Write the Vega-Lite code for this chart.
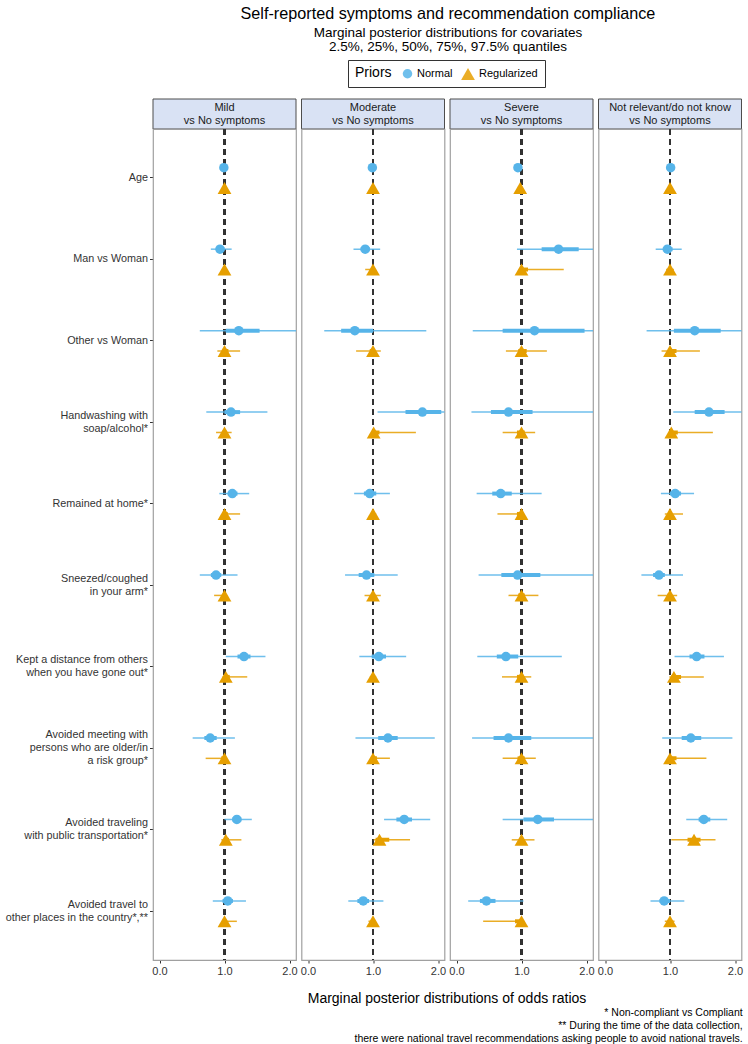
{
  "$schema": "https://vega.github.io/schema/vega-lite/v6.json",
  "padding": {"left": 5, "right": 5, "top": 5, "bottom": 0},
  "background": "white",
  "title": {
    "text": "Self-reported symptoms and recommendation compliance",
    "subtitle": ["Marginal posterior distributions for covariates", "2.5%, 25%, 50%, 75%, 97.5% quantiles"],
    "anchor": "middle",
    "dx": 74,
    "fontSize": 16.2,
    "fontWeight": "normal",
    "color": "#000000",
    "subtitleFontSize": 13.5,
    "subtitleColor": "#000000",
    "subtitlePadding": 4,
    "subtitleLineHeight": 14,
    "offset": 6
  },
  "bounds": "flush",
  "spacing": 0,
  "vconcat": [
    {
      "data": {"values": [
        {"panel": "Mild", "l1": "Mild", "l2": "vs No symptoms"},
        {"panel": "Moderate", "l1": "Moderate", "l2": "vs No symptoms"},
        {"panel": "Severe", "l1": "Severe", "l2": "vs No symptoms"},
        {"panel": "Not relevant", "l1": "Not relevant/do not know", "l2": "vs No symptoms"}
      ]},
      "width": 588.5,
      "height": 30,
      "view": {"stroke": null},
      "encoding": {
        "x": {"field": "panel", "type": "nominal", "sort": ["Mild", "Moderate", "Severe", "Not relevant"], "scale": {"paddingInner": 0.037037, "paddingOuter": 0}, "axis": null}
      },
      "layer": [
        {
          "mark": {"type": "rect", "fill": "#D9E2F4", "stroke": "#4d4d4d", "strokeWidth": 1},
          "encoding": {"y": {"value": 0}, "y2": {"value": "height"}}
        },
        {
          "mark": {"type": "text", "fontSize": 11, "color": "#1a1a1a", "dy": -6.5},
          "encoding": {"text": {"field": "l1"}}
        },
        {
          "mark": {"type": "text", "fontSize": 11, "color": "#1a1a1a", "dy": 6.5},
          "encoding": {"text": {"field": "l2"}}
        }
      ]
    },
    {
      "data": {"values": [
        {"panel":"Mild","cov":"Age","prior":"Normal","lo":0.97,"q25":0.98,"med":0.99,"q75":1.0,"hi":1.01},
        {"panel":"Mild","cov":"Age","prior":"Regularized","lo":0.98,"q25":0.99,"med":1.0,"q75":1.01,"hi":1.02},
        {"panel":"Mild","cov":"Man vs Woman","prior":"Normal","lo":0.79,"q25":0.88,"med":0.93,"q75":1.0,"hi":1.11},
        {"panel":"Mild","cov":"Man vs Woman","prior":"Regularized","lo":0.96,"q25":0.99,"med":1.0,"q75":1.01,"hi":1.04},
        {"panel":"Mild","cov":"Other vs Woman","prior":"Normal","lo":0.62,"q25":1.02,"med":1.22,"q75":1.54,"hi":2.3},
        {"panel":"Mild","cov":"Other vs Woman","prior":"Regularized","lo":0.89,"q25":0.97,"med":1.0,"q75":1.06,"hi":1.24},
        {"panel":"Mild","cov":"Handwashing with\nsoap/alcohol*","prior":"Normal","lo":0.72,"q25":1.0,"med":1.1,"q75":1.24,"hi":1.66},
        {"panel":"Mild","cov":"Handwashing with\nsoap/alcohol*","prior":"Regularized","lo":0.87,"q25":0.97,"med":1.0,"q75":1.03,"hi":1.11},
        {"panel":"Mild","cov":"Remained at home*","prior":"Normal","lo":0.92,"q25":1.05,"med":1.12,"q75":1.2,"hi":1.38},
        {"panel":"Mild","cov":"Remained at home*","prior":"Regularized","lo":0.97,"q25":0.99,"med":1.0,"q75":1.05,"hi":1.24},
        {"panel":"Mild","cov":"Sneezed/coughed\nin your arm*","prior":"Normal","lo":0.62,"q25":0.79,"med":0.87,"q75":0.95,"hi":1.2},
        {"panel":"Mild","cov":"Sneezed/coughed\nin your arm*","prior":"Regularized","lo":0.84,"q25":0.97,"med":1.0,"q75":1.01,"hi":1.03},
        {"panel":"Mild","cov":"Kept a distance from others\nwhen you have gone out*","prior":"Normal","lo":1.02,"q25":1.2,"med":1.3,"q75":1.4,"hi":1.63},
        {"panel":"Mild","cov":"Kept a distance from others\nwhen you have gone out*","prior":"Regularized","lo":0.97,"q25":1.0,"med":1.02,"q75":1.08,"hi":1.35},
        {"panel":"Mild","cov":"Avoided meeting with\npersons who are older/in\na risk group*","prior":"Normal","lo":0.51,"q25":0.69,"med":0.78,"q75":0.88,"hi":1.16},
        {"panel":"Mild","cov":"Avoided meeting with\npersons who are older/in\na risk group*","prior":"Regularized","lo":0.71,"q25":0.95,"med":1.0,"q75":1.01,"hi":1.03},
        {"panel":"Mild","cov":"Avoided traveling\nwith public transportation*","prior":"Normal","lo":1.0,"q25":1.12,"med":1.19,"q75":1.26,"hi":1.42},
        {"panel":"Mild","cov":"Avoided traveling\nwith public transportation*","prior":"Regularized","lo":0.95,"q25":1.0,"med":1.02,"q75":1.07,"hi":1.26},
        {"panel":"Mild","cov":"Avoided travel to\nother places in the country*,**","prior":"Normal","lo":0.82,"q25":0.97,"med":1.05,"q75":1.13,"hi":1.33},
        {"panel":"Mild","cov":"Avoided travel to\nother places in the country*,**","prior":"Regularized","lo":0.97,"q25":0.99,"med":1.0,"q75":1.03,"hi":1.19},

        {"panel":"Moderate","cov":"Age","prior":"Normal","lo":0.97,"q25":0.98,"med":0.99,"q75":1.0,"hi":1.01},
        {"panel":"Moderate","cov":"Age","prior":"Regularized","lo":0.98,"q25":0.99,"med":1.0,"q75":1.01,"hi":1.02},
        {"panel":"Moderate","cov":"Man vs Woman","prior":"Normal","lo":0.7,"q25":0.81,"med":0.88,"q75":0.95,"hi":1.11},
        {"panel":"Moderate","cov":"Man vs Woman","prior":"Regularized","lo":0.88,"q25":0.98,"med":1.0,"q75":1.01,"hi":1.04},
        {"panel":"Moderate","cov":"Other vs Woman","prior":"Normal","lo":0.25,"q25":0.51,"med":0.72,"q75":1.0,"hi":1.82},
        {"panel":"Moderate","cov":"Other vs Woman","prior":"Regularized","lo":0.74,"q25":0.95,"med":1.0,"q75":1.03,"hi":1.12},
        {"panel":"Moderate","cov":"Handwashing with\nsoap/alcohol*","prior":"Normal","lo":1.07,"q25":1.5,"med":1.76,"q75":2.05,"hi":2.6},
        {"panel":"Moderate","cov":"Handwashing with\nsoap/alcohol*","prior":"Regularized","lo":0.99,"q25":1.0,"med":1.01,"q75":1.1,"hi":1.66},
        {"panel":"Moderate","cov":"Remained at home*","prior":"Normal","lo":0.71,"q25":0.86,"med":0.95,"q75":1.05,"hi":1.26},
        {"panel":"Moderate","cov":"Remained at home*","prior":"Regularized","lo":0.97,"q25":0.99,"med":1.0,"q75":1.02,"hi":1.05},
        {"panel":"Moderate","cov":"Sneezed/coughed\nin your arm*","prior":"Normal","lo":0.57,"q25":0.78,"med":0.9,"q75":1.02,"hi":1.38},
        {"panel":"Moderate","cov":"Sneezed/coughed\nin your arm*","prior":"Regularized","lo":0.87,"q25":0.98,"med":1.0,"q75":1.03,"hi":1.12},
        {"panel":"Moderate","cov":"Kept a distance from others\nwhen you have gone out*","prior":"Normal","lo":0.79,"q25":0.98,"med":1.09,"q75":1.2,"hi":1.51},
        {"panel":"Moderate","cov":"Kept a distance from others\nwhen you have gone out*","prior":"Regularized","lo":0.95,"q25":0.99,"med":1.0,"q75":1.02,"hi":1.05},
        {"panel":"Moderate","cov":"Avoided meeting with\npersons who are older/in\na risk group*","prior":"Normal","lo":0.73,"q25":1.08,"med":1.23,"q75":1.38,"hi":1.95},
        {"panel":"Moderate","cov":"Avoided meeting with\npersons who are older/in\na risk group*","prior":"Regularized","lo":0.97,"q25":0.99,"med":1.0,"q75":1.06,"hi":1.26},
        {"panel":"Moderate","cov":"Avoided traveling\nwith public transportation*","prior":"Normal","lo":1.17,"q25":1.36,"med":1.48,"q75":1.6,"hi":1.88},
        {"panel":"Moderate","cov":"Avoided traveling\nwith public transportation*","prior":"Regularized","lo":1.01,"q25":1.04,"med":1.1,"q75":1.25,"hi":1.57},
        {"panel":"Moderate","cov":"Avoided travel to\nother places in the country*,**","prior":"Normal","lo":0.62,"q25":0.76,"med":0.85,"q75":0.94,"hi":1.16},
        {"panel":"Moderate","cov":"Avoided travel to\nother places in the country*,**","prior":"Regularized","lo":0.93,"q25":0.98,"med":1.0,"q75":1.01,"hi":1.03},

        {"panel":"Severe","cov":"Age","prior":"Normal","lo":0.92,"q25":0.935,"med":0.945,"q75":0.955,"hi":0.97},
        {"panel":"Severe","cov":"Age","prior":"Regularized","lo":0.96,"q25":0.97,"med":0.98,"q75":0.99,"hi":1.0},
        {"panel":"Severe","cov":"Man vs Woman","prior":"Normal","lo":0.93,"q25":1.31,"med":1.57,"q75":1.88,"hi":2.6},
        {"panel":"Severe","cov":"Man vs Woman","prior":"Regularized","lo":0.98,"q25":1.0,"med":1.0,"q75":1.1,"hi":1.65},
        {"panel":"Severe","cov":"Other vs Woman","prior":"Normal","lo":0.25,"q25":0.71,"med":1.2,"q75":1.97,"hi":3.5},
        {"panel":"Severe","cov":"Other vs Woman","prior":"Regularized","lo":0.76,"q25":0.95,"med":1.0,"q75":1.08,"hi":1.39},
        {"panel":"Severe","cov":"Handwashing with\nsoap/alcohol*","prior":"Normal","lo":0.23,"q25":0.53,"med":0.8,"q75":1.17,"hi":2.8},
        {"panel":"Severe","cov":"Handwashing with\nsoap/alcohol*","prior":"Regularized","lo":0.71,"q25":0.93,"med":1.0,"q75":1.05,"hi":1.21},
        {"panel":"Severe","cov":"Remained at home*","prior":"Normal","lo":0.31,"q25":0.55,"med":0.68,"q75":0.85,"hi":1.31},
        {"panel":"Severe","cov":"Remained at home*","prior":"Regularized","lo":0.63,"q25":0.93,"med":1.0,"q75":1.01,"hi":1.02},
        {"panel":"Severe","cov":"Sneezed/coughed\nin your arm*","prior":"Normal","lo":0.34,"q25":0.69,"med":0.94,"q75":1.29,"hi":2.6},
        {"panel":"Severe","cov":"Sneezed/coughed\nin your arm*","prior":"Regularized","lo":0.8,"q25":0.95,"med":1.0,"q75":1.05,"hi":1.26},
        {"panel":"Severe","cov":"Kept a distance from others\nwhen you have gone out*","prior":"Normal","lo":0.32,"q25":0.62,"med":0.76,"q75":0.95,"hi":1.62},
        {"panel":"Severe","cov":"Kept a distance from others\nwhen you have gone out*","prior":"Regularized","lo":0.7,"q25":0.93,"med":1.0,"q75":1.03,"hi":1.15},
        {"panel":"Severe","cov":"Avoided meeting with\npersons who are older/in\na risk group*","prior":"Normal","lo":0.24,"q25":0.57,"med":0.8,"q75":1.15,"hi":2.7},
        {"panel":"Severe","cov":"Avoided meeting with\npersons who are older/in\na risk group*","prior":"Regularized","lo":0.71,"q25":0.94,"med":1.0,"q75":1.05,"hi":1.22},
        {"panel":"Severe","cov":"Avoided traveling\nwith public transportation*","prior":"Normal","lo":0.71,"q25":1.03,"med":1.25,"q75":1.5,"hi":2.3},
        {"panel":"Severe","cov":"Avoided traveling\nwith public transportation*","prior":"Regularized","lo":0.85,"q25":0.96,"med":1.0,"q75":1.03,"hi":1.2},
        {"panel":"Severe","cov":"Avoided travel to\nother places in the country*,**","prior":"Normal","lo":0.18,"q25":0.36,"med":0.46,"q75":0.6,"hi":1.03},
        {"panel":"Severe","cov":"Avoided travel to\nother places in the country*,**","prior":"Regularized","lo":0.41,"q25":0.9,"med":1.0,"q75":1.01,"hi":1.02},

        {"panel":"Not relevant","cov":"Age","prior":"Normal","lo":0.99,"q25":1.0,"med":1.01,"q75":1.02,"hi":1.03},
        {"panel":"Not relevant","cov":"Age","prior":"Regularized","lo":0.98,"q25":0.99,"med":1.0,"q75":1.01,"hi":1.02},
        {"panel":"Not relevant","cov":"Man vs Woman","prior":"Normal","lo":0.78,"q25":0.89,"med":0.96,"q75":1.04,"hi":1.18},
        {"panel":"Not relevant","cov":"Man vs Woman","prior":"Regularized","lo":0.94,"q25":0.99,"med":1.0,"q75":1.02,"hi":1.06},
        {"panel":"Not relevant","cov":"Other vs Woman","prior":"Normal","lo":0.64,"q25":1.06,"med":1.38,"q75":1.78,"hi":2.9},
        {"panel":"Not relevant","cov":"Other vs Woman","prior":"Regularized","lo":0.87,"q25":0.97,"med":1.0,"q75":1.1,"hi":1.46},
        {"panel":"Not relevant","cov":"Handwashing with\nsoap/alcohol*","prior":"Normal","lo":1.05,"q25":1.38,"med":1.6,"q75":1.84,"hi":2.4},
        {"panel":"Not relevant","cov":"Handwashing with\nsoap/alcohol*","prior":"Regularized","lo":0.99,"q25":1.0,"med":1.02,"q75":1.12,"hi":1.66},
        {"panel":"Not relevant","cov":"Remained at home*","prior":"Normal","lo":0.86,"q25":1.0,"med":1.08,"q75":1.17,"hi":1.37},
        {"panel":"Not relevant","cov":"Remained at home*","prior":"Regularized","lo":0.92,"q25":0.98,"med":1.0,"q75":1.03,"hi":1.2},
        {"panel":"Not relevant","cov":"Sneezed/coughed\nin your arm*","prior":"Normal","lo":0.56,"q25":0.74,"med":0.83,"q75":0.92,"hi":1.2},
        {"panel":"Not relevant","cov":"Sneezed/coughed\nin your arm*","prior":"Regularized","lo":0.81,"q25":0.96,"med":1.0,"q75":1.02,"hi":1.11},
        {"panel":"Not relevant","cov":"Kept a distance from others\nwhen you have gone out*","prior":"Normal","lo":1.07,"q25":1.3,"med":1.41,"q75":1.53,"hi":1.83},
        {"panel":"Not relevant","cov":"Kept a distance from others\nwhen you have gone out*","prior":"Regularized","lo":0.99,"q25":1.02,"med":1.06,"q75":1.17,"hi":1.52},
        {"panel":"Not relevant","cov":"Avoided meeting with\npersons who are older/in\na risk group*","prior":"Normal","lo":0.88,"q25":1.18,"med":1.32,"q75":1.48,"hi":1.96},
        {"panel":"Not relevant","cov":"Avoided meeting with\npersons who are older/in\na risk group*","prior":"Regularized","lo":0.98,"q25":1.0,"med":1.0,"q75":1.1,"hi":1.56},
        {"panel":"Not relevant","cov":"Avoided traveling\nwith public transportation*","prior":"Normal","lo":1.25,"q25":1.44,"med":1.52,"q75":1.62,"hi":1.88},
        {"panel":"Not relevant","cov":"Avoided traveling\nwith public transportation*","prior":"Regularized","lo":1.02,"q25":1.27,"med":1.37,"q75":1.47,"hi":1.7},
        {"panel":"Not relevant","cov":"Avoided travel to\nother places in the country*,**","prior":"Normal","lo":0.7,"q25":0.84,"med":0.91,"q75":1.0,"hi":1.22},
        {"panel":"Not relevant","cov":"Avoided travel to\nother places in the country*,**","prior":"Regularized","lo":0.92,"q25":0.98,"med":1.0,"q75":1.02,"hi":1.07}
      ]},
      "facet": {"column": {"field": "panel", "type": "nominal", "sort": ["Mild", "Moderate", "Severe", "Not relevant"],
        "title": "Marginal posterior distributions of odds ratios",
        "header": {"labels": false, "titleOrient": "bottom", "titleFontSize": 14, "titleFontWeight": "normal", "titleColor": "#000000", "titlePadding": 6}}},
      "spacing": 5.5,
      "bounds": "flush",
      "title": {
        "text": ["* Non-compliant vs Compliant", "** During the time of the data collection,", "there were national travel recommendations asking people to avoid national travels."],
        "orient": "bottom",
        "anchor": "end",
        "align": "right",
        "fontSize": 10.5,
        "fontWeight": "normal",
        "color": "#000000",
        "lineHeight": 13,
        "offset": 2
      },
      "spec": {
        "width": 143,
        "height": 831,
        "encoding": {
          "y": {"field": "cov", "type": "nominal",
            "sort": ["Age", "Man vs Woman", "Other vs Woman", "Handwashing with\nsoap/alcohol*", "Remained at home*", "Sneezed/coughed\nin your arm*", "Kept a distance from others\nwhen you have gone out*", "Avoided meeting with\npersons who are older/in\na risk group*", "Avoided traveling\nwith public transportation*", "Avoided travel to\nother places in the country*,**"],
            "scale": {"type": "band", "paddingInner": 0, "paddingOuter": 0.1},
            "axis": {"title": null, "labelExpr": "split(datum.label, '\\n')", "labelFontSize": 10.8, "labelColor": "#333333", "tickSize": 3.5, "tickColor": "#333333", "labelPadding": 2, "labelLineHeight": 13, "domain": false,
              "labelOffset": {"condition": [{"test": "length(split(datum.value, '\\n')) == 3", "value": -13}, {"test": "length(split(datum.value, '\\n')) == 2", "value": -6.5}], "value": 0}}
          },
          "yOffset": {"field": "prior", "type": "nominal", "scale": {"domain": ["Normal", "Regularized"], "paddingInner": 0, "paddingOuter": 1.0375}}
        },
        "layer": [
          {
            "mark": {"type": "rule", "strokeDash": [6, 4], "color": "#333333", "strokeWidth": 1.5},
            "encoding": {"x": {"datum": 1, "type": "quantitative"}, "y": null, "yOffset": null}
          },
          {
            "mark": {"type": "rule", "clip": true, "strokeWidth": 1.5, "opacity": 0.85},
            "encoding": {
              "x": {"field": "lo", "type": "quantitative",
                "scale": {"domain": [-0.1, 2.1], "nice": false, "zero": false},
                "axis": {"title": null, "values": [0, 0.5, 1, 1.5, 2], "format": ".1f", "labelFontSize": 11, "labelColor": "#333333", "tickSize": 3, "tickColor": "#333333", "labelPadding": 2, "domain": false, "grid": false}},
              "x2": {"field": "hi"},
              "color": {"field": "prior", "type": "nominal", "title": "Priors", "scale": {"domain": ["Normal", "Regularized"], "range": ["#56B4E9", "#E69F00"]}}
            }
          },
          {
            "mark": {"type": "rule", "clip": true, "strokeWidth": 4},
            "encoding": {
              "x": {"field": "q25", "type": "quantitative"},
              "x2": {"field": "q75"},
              "color": {"field": "prior", "type": "nominal", "title": "Priors"}
            }
          },
          {
            "mark": {"type": "point", "filled": true, "opacity": 1, "clip": true},
            "encoding": {
              "x": {"field": "med", "type": "quantitative"},
              "color": {"field": "prior", "type": "nominal", "title": "Priors"},
              "shape": {"field": "prior", "type": "nominal", "title": "Priors", "scale": {"domain": ["Normal", "Regularized"], "range": ["circle", "triangle-up"]}},
              "size": {"field": "prior", "type": "ordinal", "title": "Priors", "scale": {"domain": ["Normal", "Regularized"], "range": [90, 190]}}
            }
          }
        ]
      }
    }
  ],
  "config": {
    "font": "Liberation Sans",
    "view": {"stroke": "#a0a0a0", "strokeWidth": 1.2},
    "axis": {"grid": false},
    "legend": {
      "orient": "none",
      "legendX": 195,
      "legendY": -39,
      "direction": "horizontal",
      "titleOrient": "left",
      "strokeColor": "#333333",
      "padding": 7,
      "titleFontSize": 14,
      "titleFontWeight": "normal",
      "titleColor": "#000000",
      "labelFontSize": 11,
      "labelColor": "#000000",
      "columnPadding": 8,
      "titlePadding": 10,
      "symbolStrokeWidth": 0
    }
  }
}
